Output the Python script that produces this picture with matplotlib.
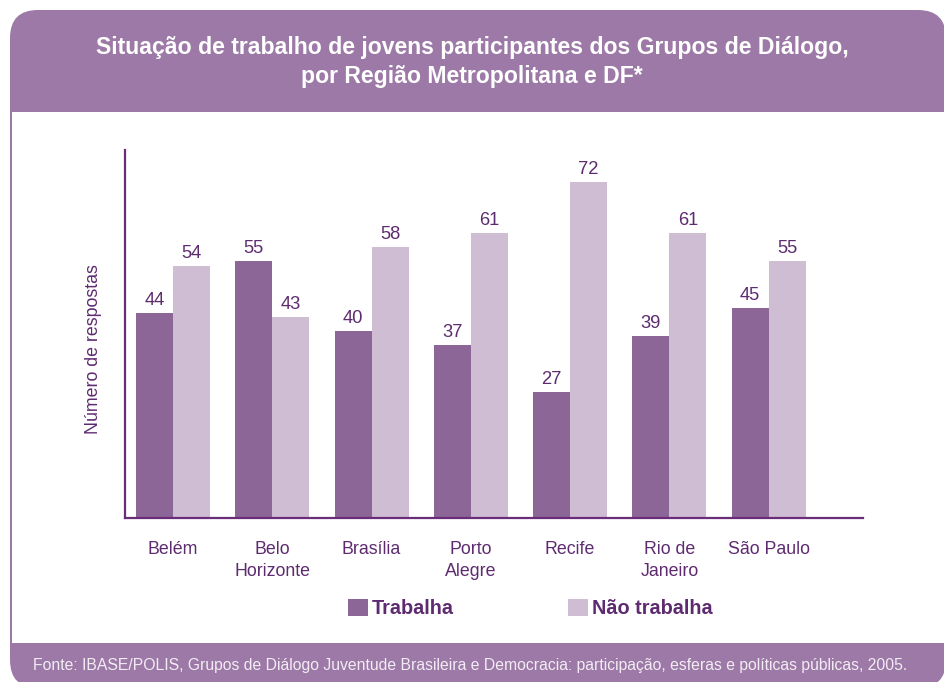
import numpy as np
import matplotlib
matplotlib.use('Agg')
import matplotlib.pyplot as plt
from matplotlib.patches import FancyBboxPatch, Rectangle
from matplotlib import font_manager

plt.rcParams['font.family'] = ['Liberation Sans', 'DejaVu Sans']

# dados
cidades = ['Belém', 'Belo\nHorizonte', 'Brasília', 'Porto\nAlegre', 'Recife', 'Rio de\nJaneiro', 'São Paulo']
trabalha = [44, 55, 40, 37, 27, 39, 45]
nao_trabalha = [54, 43, 58, 61, 72, 61, 55]
series = ['Trabalha', 'Não trabalha']

titulo = 'Situação de trabalho de jovens participantes dos Grupos de Diálogo,\npor Região Metropolitana e DF*'
fonte = ('Fonte: IBASE/POLIS, Grupos de Diálogo Juventude Brasileira e Democracia: '
         'participação, esferas e políticas públicas, 2005.')
ylabel = 'Número de respostas'

ROXO = '#9c79a6'
ESCURO = '#8b6696'
CLARO = '#cfbdd4'
TEXTO = '#5e2b70'
EIXO = '#6a2d7a'

W, H = 945, 682
fig = plt.figure(figsize=(W / 100, H / 100), dpi=100)

# fundo em coordenadas de pixel
bg = fig.add_axes([0, 0, 1, 1], zorder=0)
bg.set_xlim(0, W)
bg.set_ylim(H, 0)
bg.axis('off')
bg.add_patch(FancyBboxPatch((10, 10), 936, 678, boxstyle='round,pad=0,rounding_size=28',
                            fc=ROXO, ec='none'))
bg.add_patch(Rectangle((12, 112), 940, 531, fc='white', ec='none'))

bg.text(472, 62, titulo, ha='center', va='center', color='white', fontsize=16.6,
        fontweight='bold', linespacing=1.3)
bg.text(94, 349, ylabel, rotation=90, ha='center', va='center', fontsize=12.8, color=TEXTO)

# legenda
bg.add_patch(Rectangle((348, 599), 20, 17, fc=ESCURO, ec='none'))
bg.text(372, 614, series[0], ha='left', va='baseline', fontsize=14.3, fontweight='bold', color=TEXTO)
bg.add_patch(Rectangle((568, 599), 20, 17, fc=CLARO, ec='none'))
bg.text(592, 614, series[1], ha='left', va='baseline', fontsize=14.3, fontweight='bold', color=TEXTO)

# rodape, ajustado a largura
nomes = {f.name for f in font_manager.fontManager.ttflist}
fam = ['Liberation Sans Narrow', 'DejaVu Sans'] if 'Liberation Sans Narrow' in nomes else ['Liberation Sans', 'DejaVu Sans']
rod = bg.text(470, 670, fonte, ha='center', va='baseline', color='#f3ecf4', fontsize=12, family=fam)

# grafico
ax = fig.add_axes([125 / W, 164 / H, 738 / W, 368 / H], zorder=1)
ax.patch.set_alpha(0)
x = np.arange(len(cidades))
w = 0.3725
b1 = ax.bar(x - w / 2, trabalha, w, color=ESCURO, label=series[0])
b2 = ax.bar(x + w / 2, nao_trabalha, w, color=CLARO, label=series[1])
ax.bar_label(b1, padding=3, fontsize=13.2, color=TEXTO)
ax.bar_label(b2, padding=3, fontsize=13.2, color=TEXTO)

ax.set_xlim(-0.483, 6.95)
ax.set_ylim(0, 78.9)
ax.set_xticks(x, cidades)
ax.set_yticks([])
ax.tick_params(axis='x', length=0, pad=16.5, labelsize=12.8, labelcolor=TEXTO)
for lbl in ax.get_xticklabels():
    lbl.set_linespacing(1.4)
for s in ['top', 'right']:
    ax.spines[s].set_visible(False)
for s in ['left', 'bottom']:
    ax.spines[s].set_color(EIXO)
    ax.spines[s].set_linewidth(1.6)

fig.canvas.draw()
larg = rod.get_window_extent().width
rod.set_fontsize(12 * 875 / larg)

fig.savefig('out.png', dpi=100)
